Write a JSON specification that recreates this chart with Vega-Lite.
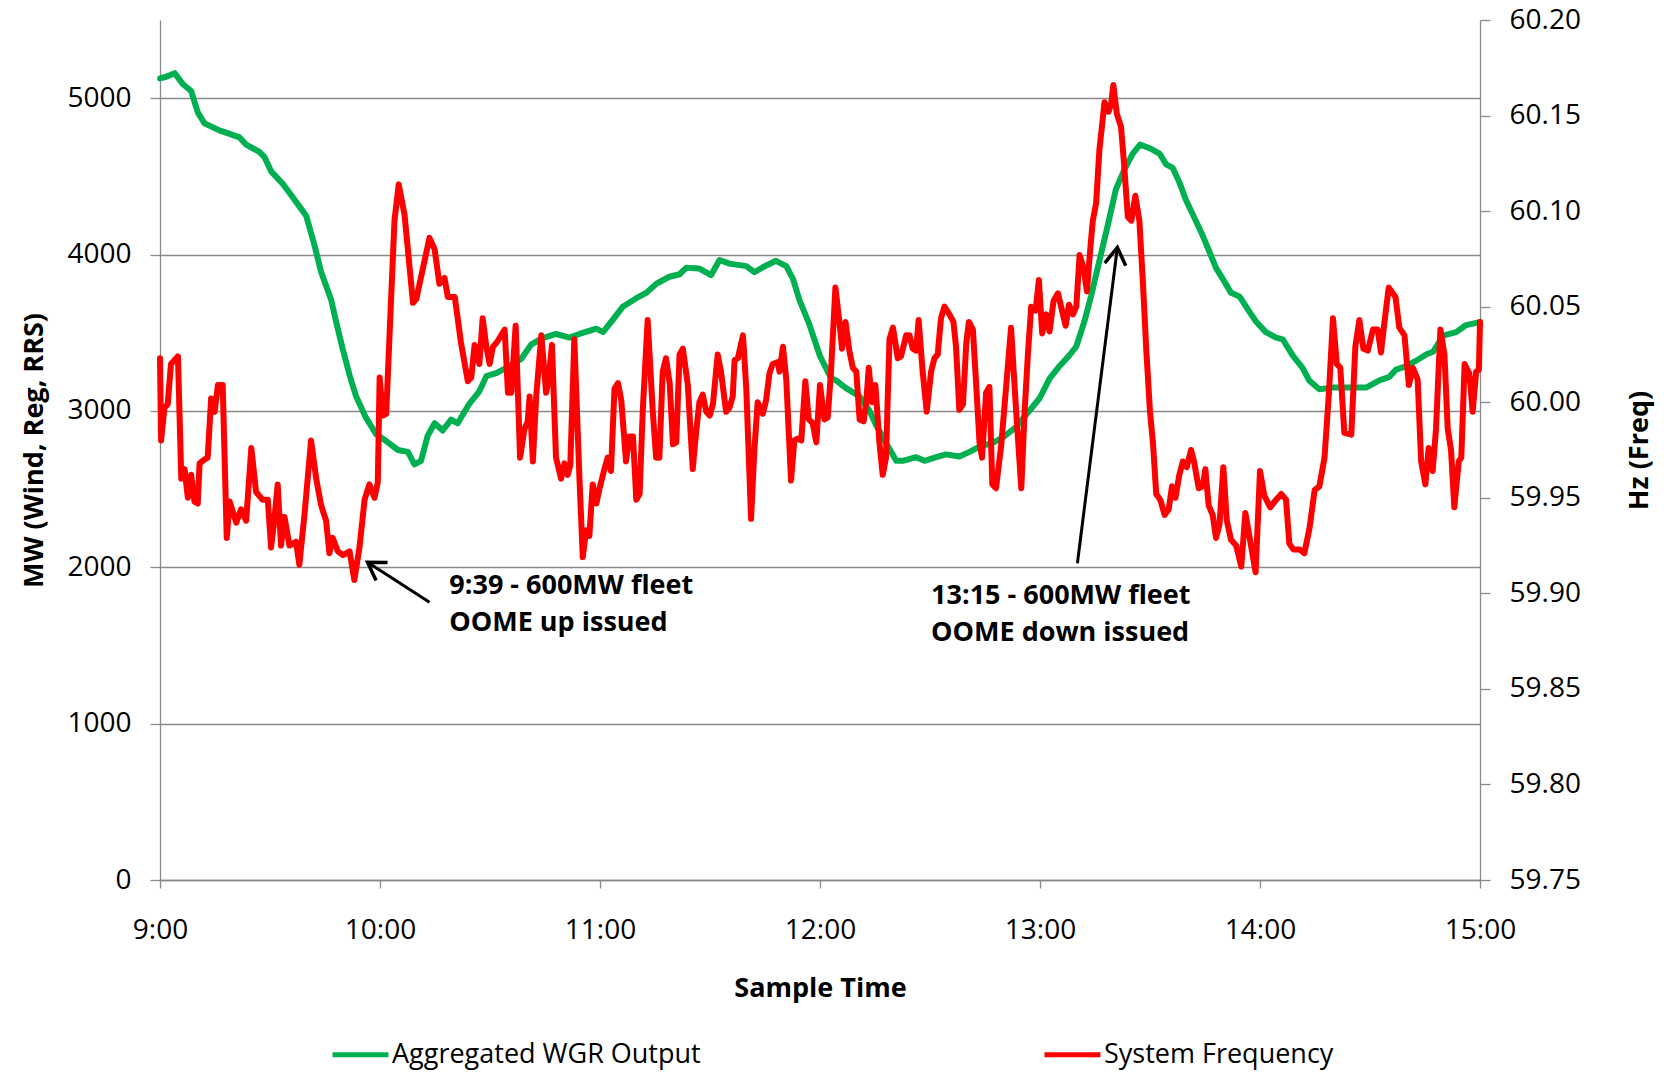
{
  "$schema": "https://vega.github.io/schema/vega-lite/v6.json",
  "width": 1320,
  "height": 860,
  "autosize": {"type": "none"},
  "padding": {"left": 160, "top": 20, "right": 189, "bottom": 195},
  "background": "white",
  "config": {
    "font": "Open Sans",
    "view": {"stroke": null},
    "axis": {
      "labelFont": "Open Sans",
      "labelFontSize": 28,
      "labelColor": "#000000",
      "titleFont": "Open Sans",
      "titleFontSize": 27,
      "titleFontWeight": "bold",
      "titleColor": "#000000",
      "domainColor": "#8a8a8a",
      "domainWidth": 1.3,
      "tickColor": "#8a8a8a",
      "tickWidth": 1.3,
      "gridColor": "#8a8a8a",
      "gridWidth": 1.3
    }
  },
  "datasets": {
    "wind": [
      {"t": 0, "mw": 5126}, {"t": 1.7, "mw": 5137}, {"t": 4, "mw": 5160}, {"t": 6.2, "mw": 5091},
      {"t": 8.5, "mw": 5046}, {"t": 10.3, "mw": 4909}, {"t": 12.1, "mw": 4840}, {"t": 16.2, "mw": 4794},
      {"t": 19, "mw": 4772}, {"t": 21.7, "mw": 4749}, {"t": 23.5, "mw": 4703}, {"t": 27.1, "mw": 4657},
      {"t": 28.5, "mw": 4623}, {"t": 30.3, "mw": 4532}, {"t": 33.5, "mw": 4452}, {"t": 35.3, "mw": 4395},
      {"t": 38.5, "mw": 4292}, {"t": 39.9, "mw": 4246}, {"t": 42.1, "mw": 4063}, {"t": 43.9, "mw": 3892},
      {"t": 46.7, "mw": 3709}, {"t": 48, "mw": 3572}, {"t": 49.9, "mw": 3389}, {"t": 51.7, "mw": 3229},
      {"t": 53.5, "mw": 3092}, {"t": 56.2, "mw": 2955}, {"t": 58.9, "mw": 2852}, {"t": 61.7, "mw": 2807},
      {"t": 64.9, "mw": 2750}, {"t": 67.6, "mw": 2738}, {"t": 69.4, "mw": 2658}, {"t": 71.2, "mw": 2681},
      {"t": 73, "mw": 2841}, {"t": 74.9, "mw": 2921}, {"t": 77.1, "mw": 2875}, {"t": 79.4, "mw": 2944},
      {"t": 81.2, "mw": 2921}, {"t": 84.4, "mw": 3047}, {"t": 87.1, "mw": 3125}, {"t": 89, "mw": 3222},
      {"t": 91.7, "mw": 3241}, {"t": 94.4, "mw": 3275}, {"t": 98.5, "mw": 3332}, {"t": 101.2, "mw": 3424},
      {"t": 104, "mw": 3462}, {"t": 108, "mw": 3492}, {"t": 111.7, "mw": 3469}, {"t": 114.4, "mw": 3492},
      {"t": 119, "mw": 3526}, {"t": 120.8, "mw": 3504}, {"t": 123.5, "mw": 3583}, {"t": 126.3, "mw": 3668},
      {"t": 129.9, "mw": 3721}, {"t": 132.6, "mw": 3755}, {"t": 135.3, "mw": 3812}, {"t": 138.9, "mw": 3858},
      {"t": 141.7, "mw": 3874}, {"t": 143.5, "mw": 3915}, {"t": 147.1, "mw": 3910}, {"t": 150.3, "mw": 3869},
      {"t": 152.6, "mw": 3965}, {"t": 155.3, "mw": 3942}, {"t": 159.9, "mw": 3926}, {"t": 162.1, "mw": 3887},
      {"t": 164.4, "mw": 3919}, {"t": 168, "mw": 3960}, {"t": 170.8, "mw": 3926}, {"t": 172.6, "mw": 3846},
      {"t": 174.4, "mw": 3709}, {"t": 177, "mw": 3560}, {"t": 180, "mw": 3350}, {"t": 183, "mw": 3210},
      {"t": 184.4, "mw": 3195}, {"t": 186.9, "mw": 3149}, {"t": 190.8, "mw": 3092}, {"t": 193.5, "mw": 3001},
      {"t": 195.3, "mw": 2909}, {"t": 198, "mw": 2795}, {"t": 200.8, "mw": 2681}, {"t": 202.6, "mw": 2681},
      {"t": 206.2, "mw": 2704}, {"t": 208.5, "mw": 2681}, {"t": 211.7, "mw": 2704}, {"t": 214.4, "mw": 2722},
      {"t": 218, "mw": 2708}, {"t": 220.8, "mw": 2738}, {"t": 223.5, "mw": 2772}, {"t": 227.1, "mw": 2795},
      {"t": 229.9, "mw": 2830}, {"t": 233.5, "mw": 2898}, {"t": 237.1, "mw": 3001}, {"t": 239.9, "mw": 3081},
      {"t": 242.6, "mw": 3207}, {"t": 245.3, "mw": 3286}, {"t": 248, "mw": 3355}, {"t": 249.9, "mw": 3412},
      {"t": 252.1, "mw": 3572}, {"t": 253.9, "mw": 3732}, {"t": 256.2, "mw": 3960}, {"t": 258.5, "mw": 4189},
      {"t": 260.7, "mw": 4417}, {"t": 263, "mw": 4543}, {"t": 265.3, "mw": 4646}, {"t": 267.3, "mw": 4703},
      {"t": 269.9, "mw": 4680}, {"t": 272.6, "mw": 4646}, {"t": 274.4, "mw": 4577}, {"t": 276.2, "mw": 4554},
      {"t": 278, "mw": 4463}, {"t": 279.8, "mw": 4349}, {"t": 282.1, "mw": 4235}, {"t": 284.4, "mw": 4120},
      {"t": 286.2, "mw": 4018}, {"t": 288, "mw": 3915}, {"t": 289.8, "mw": 3846}, {"t": 292.1, "mw": 3755},
      {"t": 294.4, "mw": 3732}, {"t": 296.6, "mw": 3652}, {"t": 298.9, "mw": 3572}, {"t": 301.6, "mw": 3504},
      {"t": 304.4, "mw": 3469}, {"t": 306.2, "mw": 3458}, {"t": 308.9, "mw": 3355}, {"t": 311.6, "mw": 3275},
      {"t": 313.4, "mw": 3195}, {"t": 316.2, "mw": 3138}, {"t": 319.8, "mw": 3149}, {"t": 323.5, "mw": 3149},
      {"t": 328.9, "mw": 3149}, {"t": 332.6, "mw": 3195}, {"t": 335.3, "mw": 3218}, {"t": 337.1, "mw": 3264},
      {"t": 339.9, "mw": 3286}, {"t": 342.6, "mw": 3321}, {"t": 345.4, "mw": 3362}, {"t": 347.2, "mw": 3378},
      {"t": 349.9, "mw": 3481}, {"t": 353.5, "mw": 3504}, {"t": 356.2, "mw": 3549}, {"t": 360, "mw": 3568}
    ],
    "freq": [
      {"t": 0, "hz": 60.023}, {"t": 0.3, "hz": 59.98}, {"t": 1.2, "hz": 59.997}, {"t": 2.1, "hz": 59.999},
      {"t": 3.0, "hz": 60.02}, {"t": 4.9, "hz": 60.024}, {"t": 5.8, "hz": 59.96}, {"t": 6.7, "hz": 59.965},
      {"t": 7.6, "hz": 59.95}, {"t": 8.5, "hz": 59.962}, {"t": 9.4, "hz": 59.948}, {"t": 10.3, "hz": 59.947},
      {"t": 10.8, "hz": 59.968}, {"t": 12.1, "hz": 59.97}, {"t": 13.0, "hz": 59.971}, {"t": 13.95, "hz": 60.002},
      {"t": 14.9, "hz": 59.995}, {"t": 15.8, "hz": 60.009}, {"t": 17.1, "hz": 60.009}, {"t": 18.2, "hz": 59.929},
      {"t": 19.0, "hz": 59.948}, {"t": 20.8, "hz": 59.937}, {"t": 22.1, "hz": 59.944}, {"t": 23.5, "hz": 59.938},
      {"t": 24.9, "hz": 59.976}, {"t": 26.2, "hz": 59.953}, {"t": 28.0, "hz": 59.949}, {"t": 29.4, "hz": 59.949},
      {"t": 30.3, "hz": 59.924}, {"t": 31.2, "hz": 59.939}, {"t": 32.1, "hz": 59.957}, {"t": 33.0, "hz": 59.925},
      {"t": 33.95, "hz": 59.94}, {"t": 35.3, "hz": 59.925}, {"t": 37.1, "hz": 59.927}, {"t": 38.0, "hz": 59.915},
      {"t": 39.4, "hz": 59.941}, {"t": 41.2, "hz": 59.98}, {"t": 42.6, "hz": 59.96}, {"t": 43.95, "hz": 59.946},
      {"t": 45.3, "hz": 59.938}, {"t": 46.2, "hz": 59.921}, {"t": 47.1, "hz": 59.929}, {"t": 48.5, "hz": 59.922},
      {"t": 49.9, "hz": 59.92}, {"t": 51.7, "hz": 59.922}, {"t": 53.0, "hz": 59.907}, {"t": 54.4, "hz": 59.924},
      {"t": 55.8, "hz": 59.949}, {"t": 57.1, "hz": 59.957}, {"t": 58.5, "hz": 59.95}, {"t": 59.4, "hz": 59.958},
      {"t": 59.9, "hz": 60.013}, {"t": 60.8, "hz": 59.993}, {"t": 61.7, "hz": 59.994}, {"t": 62.6, "hz": 60.035},
      {"t": 63.95, "hz": 60.095}, {"t": 65.1, "hz": 60.114}, {"t": 66.7, "hz": 60.098}, {"t": 69.0, "hz": 60.052},
      {"t": 69.9, "hz": 60.054}, {"t": 71.7, "hz": 60.07}, {"t": 73.5, "hz": 60.086}, {"t": 74.9, "hz": 60.08},
      {"t": 76.2, "hz": 60.062}, {"t": 77.6, "hz": 60.065}, {"t": 78.5, "hz": 60.055}, {"t": 80.4, "hz": 60.055},
      {"t": 82.1, "hz": 60.031}, {"t": 83.95, "hz": 60.011}, {"t": 84.9, "hz": 60.013}, {"t": 85.8, "hz": 60.03},
      {"t": 87.1, "hz": 60.02}, {"t": 88.0, "hz": 60.044}, {"t": 89.0, "hz": 60.029}, {"t": 89.9, "hz": 60.02},
      {"t": 90.8, "hz": 60.029}, {"t": 92.1, "hz": 60.032}, {"t": 94.0, "hz": 60.038}, {"t": 94.9, "hz": 60.005},
      {"t": 95.8, "hz": 60.005}, {"t": 97.0, "hz": 60.04}, {"t": 98.2, "hz": 59.971}, {"t": 99.4, "hz": 59.986},
      {"t": 100.3, "hz": 59.99}, {"t": 100.8, "hz": 60.003}, {"t": 101.7, "hz": 59.969}, {"t": 102.6, "hz": 60.003},
      {"t": 104.0, "hz": 60.035}, {"t": 105.3, "hz": 60.005}, {"t": 106.0, "hz": 60.012}, {"t": 106.9, "hz": 60.03},
      {"t": 108.0, "hz": 59.971}, {"t": 109.4, "hz": 59.96}, {"t": 110.3, "hz": 59.968}, {"t": 111.2, "hz": 59.962},
      {"t": 111.9, "hz": 59.967}, {"t": 113.0, "hz": 60.033}, {"t": 114.4, "hz": 59.96}, {"t": 115.3, "hz": 59.919},
      {"t": 116.2, "hz": 59.933}, {"t": 117.1, "hz": 59.93}, {"t": 118.0, "hz": 59.957}, {"t": 119.0, "hz": 59.947},
      {"t": 119.9, "hz": 59.955}, {"t": 121.2, "hz": 59.965}, {"t": 122.1, "hz": 59.971}, {"t": 123.0, "hz": 59.964},
      {"t": 123.95, "hz": 60.007}, {"t": 124.9, "hz": 60.01}, {"t": 125.8, "hz": 60.001}, {"t": 127.1, "hz": 59.969},
      {"t": 128.0, "hz": 59.982}, {"t": 129.0, "hz": 59.982}, {"t": 129.9, "hz": 59.949}, {"t": 130.8, "hz": 59.952},
      {"t": 131.7, "hz": 59.997}, {"t": 133.0, "hz": 60.043}, {"t": 134.4, "hz": 59.995}, {"t": 135.3, "hz": 59.971},
      {"t": 136.2, "hz": 59.971}, {"t": 137.1, "hz": 60.016}, {"t": 138.0, "hz": 60.023}, {"t": 139.0, "hz": 60.01},
      {"t": 139.9, "hz": 59.978}, {"t": 140.8, "hz": 59.979}, {"t": 141.7, "hz": 60.025}, {"t": 142.6, "hz": 60.028},
      {"t": 143.95, "hz": 60.009}, {"t": 145.3, "hz": 59.965}, {"t": 146.2, "hz": 59.984}, {"t": 147.1, "hz": 60.0},
      {"t": 148.0, "hz": 60.004}, {"t": 149.0, "hz": 59.995}, {"t": 149.9, "hz": 59.993}, {"t": 150.8, "hz": 59.999},
      {"t": 152.1, "hz": 60.025}, {"t": 153.0, "hz": 60.016}, {"t": 154.4, "hz": 59.995}, {"t": 155.3, "hz": 59.997},
      {"t": 156.2, "hz": 60.003}, {"t": 156.7, "hz": 60.022}, {"t": 157.6, "hz": 60.023}, {"t": 159.0, "hz": 60.035},
      {"t": 159.9, "hz": 60.007}, {"t": 161.2, "hz": 59.939}, {"t": 162.1, "hz": 59.975}, {"t": 163.0, "hz": 60.0},
      {"t": 164.4, "hz": 59.994}, {"t": 165.3, "hz": 60.001}, {"t": 166.2, "hz": 60.015}, {"t": 167.1, "hz": 60.02},
      {"t": 168.5, "hz": 60.021}, {"t": 168.95, "hz": 60.016}, {"t": 169.9, "hz": 60.029}, {"t": 170.8, "hz": 60.012},
      {"t": 172.1, "hz": 59.959}, {"t": 173.0, "hz": 59.98}, {"t": 173.95, "hz": 59.981}, {"t": 174.9, "hz": 59.98},
      {"t": 176.0, "hz": 60.011}, {"t": 176.95, "hz": 59.991}, {"t": 178.0, "hz": 59.989}, {"t": 179.0, "hz": 59.979},
      {"t": 180.0, "hz": 60.009}, {"t": 181.2, "hz": 59.991}, {"t": 182.1, "hz": 59.992}, {"t": 183.0, "hz": 60.016},
      {"t": 184.2, "hz": 60.06}, {"t": 185.3, "hz": 60.042}, {"t": 186.0, "hz": 60.028}, {"t": 186.95, "hz": 60.042},
      {"t": 188.0, "hz": 60.027}, {"t": 188.95, "hz": 60.018}, {"t": 189.9, "hz": 60.016}, {"t": 190.8, "hz": 59.991},
      {"t": 191.9, "hz": 59.99}, {"t": 192.6, "hz": 60.0}, {"t": 193.3, "hz": 60.018}, {"t": 194.2, "hz": 60.0},
      {"t": 195.1, "hz": 60.009}, {"t": 196.2, "hz": 59.979}, {"t": 197.1, "hz": 59.962}, {"t": 198.0, "hz": 59.971},
      {"t": 198.95, "hz": 60.033}, {"t": 199.9, "hz": 60.039}, {"t": 201.2, "hz": 60.023}, {"t": 202.1, "hz": 60.024},
      {"t": 203.5, "hz": 60.035}, {"t": 204.4, "hz": 60.035}, {"t": 205.3, "hz": 60.028}, {"t": 206.2, "hz": 60.027},
      {"t": 206.9, "hz": 60.043}, {"t": 208.0, "hz": 60.016}, {"t": 209.1, "hz": 59.995}, {"t": 210.3, "hz": 60.016},
      {"t": 211.2, "hz": 60.023}, {"t": 212.1, "hz": 60.025}, {"t": 213.0, "hz": 60.044}, {"t": 213.95, "hz": 60.05},
      {"t": 215.3, "hz": 60.046}, {"t": 216.4, "hz": 60.042}, {"t": 217.1, "hz": 60.029}, {"t": 218.0, "hz": 59.996},
      {"t": 219.0, "hz": 59.999}, {"t": 219.9, "hz": 60.031}, {"t": 220.6, "hz": 60.042}, {"t": 221.7, "hz": 60.038},
      {"t": 222.6, "hz": 60.009}, {"t": 223.5, "hz": 59.979}, {"t": 224.2, "hz": 59.971}, {"t": 225.3, "hz": 60.005},
      {"t": 226.2, "hz": 60.008}, {"t": 227.0, "hz": 59.957}, {"t": 228.0, "hz": 59.955}, {"t": 229.4, "hz": 59.977},
      {"t": 230.8, "hz": 60.009}, {"t": 232.1, "hz": 60.039}, {"t": 233.5, "hz": 59.995}, {"t": 234.9, "hz": 59.955},
      {"t": 235.8, "hz": 59.995}, {"t": 236.7, "hz": 60.025}, {"t": 237.6, "hz": 60.05}, {"t": 238.8, "hz": 60.048},
      {"t": 239.7, "hz": 60.064}, {"t": 240.6, "hz": 60.036}, {"t": 241.7, "hz": 60.046}, {"t": 242.6, "hz": 60.037},
      {"t": 243.7, "hz": 60.053}, {"t": 244.9, "hz": 60.057}, {"t": 246.0, "hz": 60.048}, {"t": 247.0, "hz": 60.04},
      {"t": 247.9, "hz": 60.051}, {"t": 249.0, "hz": 60.046}, {"t": 249.9, "hz": 60.05}, {"t": 250.8, "hz": 60.077},
      {"t": 251.9, "hz": 60.07}, {"t": 252.8, "hz": 60.058}, {"t": 253.7, "hz": 60.08}, {"t": 254.4, "hz": 60.095},
      {"t": 255.3, "hz": 60.104}, {"t": 256.2, "hz": 60.132}, {"t": 257.6, "hz": 60.157}, {"t": 258.7, "hz": 60.152},
      {"t": 259.4, "hz": 60.156}, {"t": 260.0, "hz": 60.166}, {"t": 260.95, "hz": 60.151}, {"t": 262.1, "hz": 60.144},
      {"t": 263.0, "hz": 60.123}, {"t": 263.95, "hz": 60.097}, {"t": 264.9, "hz": 60.095}, {"t": 266.0, "hz": 60.108},
      {"t": 267.1, "hz": 60.095}, {"t": 268.0, "hz": 60.065}, {"t": 269.0, "hz": 60.027}, {"t": 270.0, "hz": 59.995},
      {"t": 270.8, "hz": 59.979}, {"t": 271.7, "hz": 59.952}, {"t": 272.8, "hz": 59.949}, {"t": 274.0, "hz": 59.941},
      {"t": 275.1, "hz": 59.944}, {"t": 276.0, "hz": 59.956}, {"t": 276.95, "hz": 59.95}, {"t": 278.0, "hz": 59.962},
      {"t": 278.95, "hz": 59.969}, {"t": 280.0, "hz": 59.966}, {"t": 281.2, "hz": 59.975}, {"t": 282.0, "hz": 59.969},
      {"t": 283.3, "hz": 59.955}, {"t": 284.4, "hz": 59.956}, {"t": 285.1, "hz": 59.965}, {"t": 286.0, "hz": 59.946},
      {"t": 287.1, "hz": 59.941}, {"t": 288.0, "hz": 59.929}, {"t": 288.95, "hz": 59.936}, {"t": 290.0, "hz": 59.966},
      {"t": 290.95, "hz": 59.938}, {"t": 292.1, "hz": 59.928}, {"t": 293.5, "hz": 59.925}, {"t": 294.9, "hz": 59.914},
      {"t": 296.0, "hz": 59.942}, {"t": 297.1, "hz": 59.93}, {"t": 298.8, "hz": 59.911}, {"t": 300.0, "hz": 59.964},
      {"t": 301.2, "hz": 59.951}, {"t": 302.8, "hz": 59.945}, {"t": 304.4, "hz": 59.949}, {"t": 305.8, "hz": 59.952},
      {"t": 307.1, "hz": 59.949}, {"t": 308.0, "hz": 59.926}, {"t": 309.1, "hz": 59.923}, {"t": 310.8, "hz": 59.923},
      {"t": 312.1, "hz": 59.921}, {"t": 313.5, "hz": 59.934}, {"t": 314.9, "hz": 59.954}, {"t": 316.2, "hz": 59.956},
      {"t": 317.6, "hz": 59.971}, {"t": 318.8, "hz": 60.005}, {"t": 319.9, "hz": 60.044}, {"t": 320.95, "hz": 60.02},
      {"t": 321.9, "hz": 60.018}, {"t": 323.0, "hz": 59.984}, {"t": 324.9, "hz": 59.983}, {"t": 326.0, "hz": 60.029},
      {"t": 327.1, "hz": 60.043}, {"t": 328.2, "hz": 60.028}, {"t": 329.4, "hz": 60.027}, {"t": 330.8, "hz": 60.038},
      {"t": 332.1, "hz": 60.038}, {"t": 333.0, "hz": 60.026}, {"t": 333.95, "hz": 60.042}, {"t": 335.1, "hz": 60.06},
      {"t": 336.95, "hz": 60.055}, {"t": 338.0, "hz": 60.039}, {"t": 339.4, "hz": 60.035}, {"t": 340.6, "hz": 60.009},
      {"t": 341.7, "hz": 60.018}, {"t": 343.0, "hz": 60.012}, {"t": 343.95, "hz": 59.969}, {"t": 345.1, "hz": 59.957},
      {"t": 346.0, "hz": 59.976}, {"t": 347.1, "hz": 59.964}, {"t": 348.0, "hz": 59.986}, {"t": 349.2, "hz": 60.038},
      {"t": 350.3, "hz": 60.025}, {"t": 351.2, "hz": 59.986}, {"t": 352.1, "hz": 59.975}, {"t": 353.0, "hz": 59.945},
      {"t": 354.2, "hz": 59.969}, {"t": 354.9, "hz": 59.971}, {"t": 355.8, "hz": 60.02}, {"t": 357.1, "hz": 60.015},
      {"t": 358.0, "hz": 59.995}, {"t": 358.95, "hz": 60.016}, {"t": 359.7, "hz": 60.017}, {"t": 360, "hz": 60.042}
    ],
    "arrows": [
      {"id": 1, "t": 73.5, "mw": 1776, "t2": 56.6, "mw2": 2032},
      {"id": 2, "t": 250.2, "mw": 2026, "t2": 261.1, "mw2": 4045}
    ],
    "notes": [
      {"t": 78.9, "mw": 1832, "text": "9:39 - 600MW fleet\nOOME up issued"},
      {"t": 210.3, "mw": 1768, "text": "13:15 - 600MW fleet\nOOME down issued"}
    ]
  },
  "layer": [
    {
      "data": {"name": "wind"},
      "mark": {"type": "line", "strokeWidth": 6, "strokeJoin": "round", "strokeCap": "round"},
      "encoding": {
        "x": {
          "field": "t", "type": "quantitative",
          "scale": {"domain": [0, 360], "nice": false, "zero": false},
          "axis": {
            "title": "Sample Time",
            "values": [0, 60, 120, 180, 240, 300, 360],
            "labelExpr": "(9 + datum.value / 60) + ':00'",
            "grid": false,
            "tickSize": 8,
            "labelPadding": 28,
            "titlePadding": 31,
            "labelFlush": false,
            "labelOverlap": false
          }
        },
        "y": {
          "field": "mw", "type": "quantitative",
          "scale": {"domain": [0, 5500], "nice": false},
          "axis": {
            "title": "MW (Wind, Reg, RRS)",
            "values": [0, 1000, 2000, 3000, 4000, 5000],
            "format": "d",
            "grid": true,
            "tickSize": 10,
            "labelPadding": 19,
            "titlePadding": 18,
            "labelOverlap": false
          }
        },
        "color": {
          "datum": "Aggregated WGR Output",
          "scale": {"domain": ["Aggregated WGR Output", "System Frequency"], "range": ["#00B050", "#FF0000"]},
          "legend": {
            "title": null,
            "orient": "none",
            "legendX": 170,
            "legendY": 1004,
            "direction": "horizontal",
            "padding": 0,
            "labelFont": "Open Sans",
            "labelFontSize": 27,
            "labelColor": "#000000",
            "labelLimit": 0,
            "labelOffset": 1,
            "symbolType": "stroke",
            "symbolSize": 3136,
            "symbolStrokeWidth": 5,
            "columnPadding": 333
          }
        }
      }
    },
    {
      "data": {"name": "freq"},
      "mark": {"type": "line", "strokeWidth": 6, "strokeJoin": "round", "strokeCap": "round"},
      "encoding": {
        "x": {"field": "t", "type": "quantitative"},
        "y": {
          "field": "hz", "type": "quantitative",
          "scale": {"domain": [59.75, 60.2], "nice": false, "zero": false},
          "axis": {
            "orient": "right",
            "title": "Hz (Freq)",
            "values": [59.75, 59.8, 59.85, 59.9, 59.95, 60.0, 60.05, 60.1, 60.15, 60.2],
            "format": ".2f",
            "grid": false,
            "tickSize": 10,
            "labelPadding": 19,
            "titlePadding": 46,
            "titleAngle": 270,
            "titleBaseline": "top",
            "labelOverlap": false,
            "labelFlush": false
          }
        },
        "color": {"datum": "System Frequency"}
      }
    },
    {
      "encoding": {},
      "layer": [
        {
          "data": {"name": "arrows"},
          "mark": {"type": "rule", "color": "#000000", "strokeWidth": 3},
          "encoding": {
            "x": {"field": "t", "type": "quantitative"},
            "y": {"field": "mw", "type": "quantitative", "scale": {"domain": [0, 5500], "nice": false}, "axis": null},
            "x2": {"field": "t2"},
            "y2": {"field": "mw2"}
          }
        },
        {
          "data": {"name": "arrows"},
          "transform": [{"filter": "datum.id == 1"}],
          "mark": {"type": "point", "shape": "M-0.53,0.85L0,0L0.53,0.85", "filled": false, "color": "#000000", "opacity": 1, "strokeWidth": 3.5, "size": 1600, "angle": 302.8},
          "encoding": {
            "x": {"field": "t2", "type": "quantitative"},
            "y": {"field": "mw2", "type": "quantitative"}
          }
        },
        {
          "data": {"name": "arrows"},
          "transform": [{"filter": "datum.id == 2"}],
          "mark": {"type": "point", "shape": "M-0.53,0.85L0,0L0.53,0.85", "filled": false, "color": "#000000", "opacity": 1, "strokeWidth": 3.5, "size": 1600, "angle": 7.2},
          "encoding": {
            "x": {"field": "t2", "type": "quantitative"},
            "y": {"field": "mw2", "type": "quantitative"}
          }
        },
        {
          "data": {"name": "notes"},
          "mark": {"type": "text", "align": "left", "baseline": "alphabetic", "font": "Open Sans", "fontSize": 27, "fontWeight": "bold", "color": "#000000", "lineBreak": "\n", "lineHeight": 37},
          "encoding": {
            "x": {"field": "t", "type": "quantitative"},
            "y": {"field": "mw", "type": "quantitative"},
            "text": {"field": "text"}
          }
        }
      ]
    }
  ],
  "resolve": {"scale": {"y": "independent"}}
}
